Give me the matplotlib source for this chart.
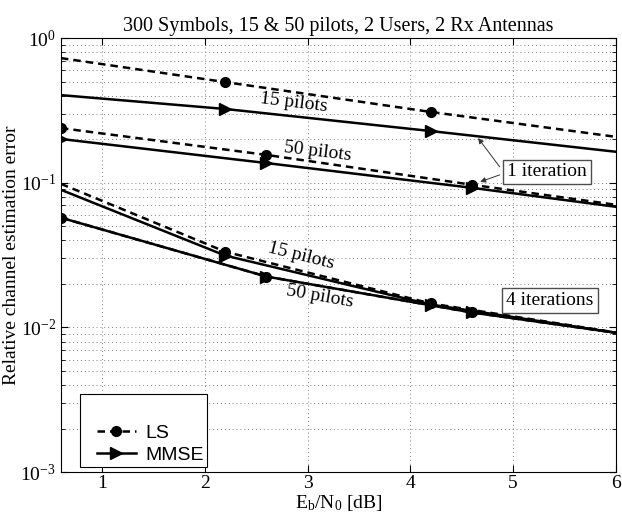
import matplotlib
matplotlib.use('Agg')
import matplotlib.pyplot as plt
import matplotlib.patches as mpatches

plt.rcParams['font.family'] = 'Liberation Serif'
plt.rcParams['mathtext.fontset'] = 'custom'
plt.rcParams['mathtext.rm'] = 'Liberation Serif'
plt.rcParams['mathtext.it'] = 'Liberation Serif:italic'

# Eb/N0 grid points (15 pilots / 50 pilots curves have markers at different x)
x15 = [0.6, 2.2, 4.2, 6.0]
x50 = [0.6, 2.6, 4.6, 6.0]

# 1 iteration
ls15_it1 = [0.728, 0.497, 0.309, 0.208]
mmse15_it1 = [0.404, 0.324, 0.228, 0.164]
ls50_it1 = [0.239, 0.156, 0.097, 0.0705]
mmse50_it1 = [0.201, 0.137, 0.0924, 0.0683]

# 4 iterations
ls15_it4 = [0.0984, 0.0334, 0.01465, 0.00924]
mmse15_it4 = [0.0895, 0.0314, 0.0144, 0.0092]
ls50_it4 = [0.0574, 0.0225, 0.0127, 0.0092]
mmse50_it4 = [0.0574, 0.0225, 0.0127, 0.0092]

xticks = [1, 2, 3, 4, 5, 6]

fig = plt.figure(figsize=(6.22, 5.16), dpi=100)
ax = fig.add_axes([0.098, 0.085, 0.892, 0.841])

dash = (0, (3, 2))
lw = 1.8
ls_kw = dict(color='black', linestyle=dash, linewidth=lw, marker='o', markersize=7)
mm_kw = dict(color='black', linestyle='-', linewidth=lw, marker='>', markersize=8)

ax.plot(x15, ls15_it1, markevery=[1, 2], **ls_kw)
ax.plot(x15, mmse15_it1, markevery=[1, 2], **mm_kw)
ax.plot(x50, ls50_it1, markevery=[0, 1, 2], **ls_kw)
ax.plot(x50, mmse50_it1, markevery=[0, 1, 2], **mm_kw)
ax.plot(x15, ls15_it4, markevery=[1, 2], **ls_kw)
ax.plot(x15, mmse15_it4, markevery=[1, 2], **mm_kw)
ax.plot(x50, ls50_it4, markevery=[0, 1, 2], **ls_kw)
ax.plot(x50, mmse50_it4, markevery=[0, 1, 2], **mm_kw)

ax.set_yscale('log')
ax.set_xlim(0.6, 6)
ax.set_ylim(1e-3, 1)
ax.set_xticks(xticks)
ax.set_xticklabels([str(t) for t in xticks])
ax.tick_params(which='both', direction='in', top=True, right=True, labelsize=14)
ax.tick_params(axis='x', pad=2)
ax.tick_params(which='major', length=5)
ax.tick_params(which='minor', length=3)
ax.grid(True, which='major', linestyle=(0, (1, 3)), color='0.5', linewidth=0.7)
ax.grid(True, which='minor', axis='y', linestyle=(0, (1, 3)), color='0.5', linewidth=0.7)

ax.set_title('300 Symbols, 15 & 50 pilots, 2 Users, 2 Rx Antennas', fontsize=14.5, pad=5)
ax.set_xlabel(r'E$_\mathrm{b}$/N$_\mathrm{0}$ [dB]', fontsize=14, labelpad=1)
ax.set_ylabel('Relative channel estimation error', fontsize=14, labelpad=0)

# curve labels
ax.text(2.87, 0.36, '15 pilots', fontsize=14, rotation=-7, ha='center', va='center')
ax.text(3.10, 0.163, '50 pilots', fontsize=14, rotation=-7, ha='center', va='center')
ax.text(2.94, 0.031, '15 pilots', fontsize=14, rotation=-14, ha='center', va='center')
ax.text(3.12, 0.0165, '50 pilots', fontsize=14, rotation=-10, ha='center', va='center')

box = dict(boxstyle='square,pad=0.2', facecolor='white', edgecolor='0.3', linewidth=1)
arrow = dict(arrowstyle='-|>', color='0.2', linewidth=0.7, mutation_scale=8, shrinkA=0, shrinkB=0)
ax.text(5.33, 0.119, '1 iteration', fontsize=14, ha='center', va='center', bbox=box, zorder=4)
ax.annotate('', xy=(4.66, 0.204), xytext=(4.87, 0.129), arrowprops=arrow)
ax.annotate('', xy=(4.68, 0.1016), xytext=(4.87, 0.1135), arrowprops=arrow)
ax.text(5.36, 0.01535, '4 iterations', fontsize=14, ha='center', va='center', bbox=box)

# legend with a taller frame than its two entries
frame = mpatches.Rectangle((0.034, 0.012), 0.229, 0.167, transform=ax.transAxes,
                           facecolor='white', edgecolor='black', linewidth=0.8, zorder=5)
ax.add_patch(frame)
ls_h = plt.Line2D([], [], **ls_kw)
mm_h = plt.Line2D([], [], **mm_kw)
leg = ax.legend([ls_h, mm_h], ['LS', 'MMSE'], loc='lower left', bbox_to_anchor=(0.04, -0.012),
                frameon=False, prop={'family': 'Liberation Sans', 'size': 14},
                handlelength=2.0, labelspacing=0.2, handletextpad=0.5, borderpad=0.2)
leg.set_zorder(6)

plt.savefig('out.png', dpi=100)
